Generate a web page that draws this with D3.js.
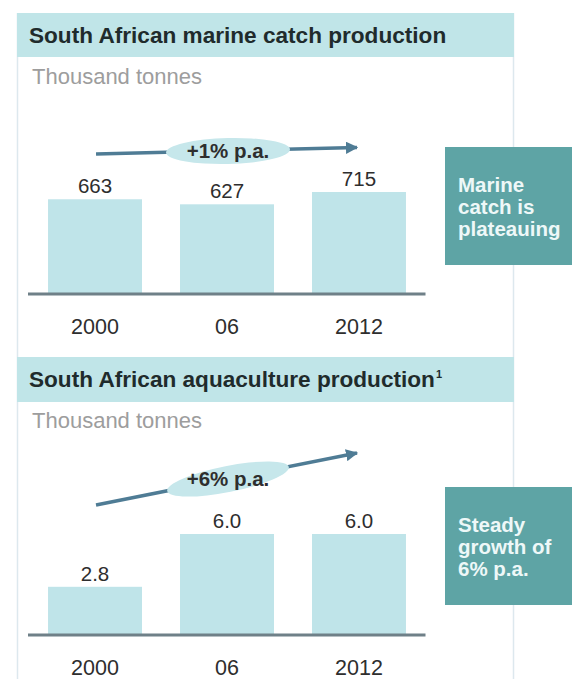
<!DOCTYPE html>
<html>
<head>
<meta charset="utf-8">
<script src="https://cdn.jsdelivr.net/npm/d3@7"></script>
<style>
  html, body { margin: 0; padding: 0; background: #fff; }
  svg { display: block; font-family: "Liberation Sans", Arial, Helvetica, sans-serif; }
</style>
</head>
<body>
<svg id="chart" width="572" height="679"></svg>
<script>
// Years shown on both charts
const categories = ["2000", "06", "2012"];

// Thousand tonnes
const marineCatch = [663, 627, 715];
const aquaculture = [2.8, 6.0, 6.0];

// Panel texts
const titles = ["South African marine catch production", "South African aquaculture production"];
const units = ["Thousand tonnes", "Thousand tonnes"];
const growthLabels = ["+1% p.a.", "+6% p.a."];
const sideNotes = [
  ["Marine", "catch is", "plateauing"],
  ["Steady", "growth of", "6% p.a."]
];

const COLORS = {
  header: "#c0e5e8",
  bar: "#bfe4e9",
  axis: "#6f8088",
  arrow: "#4f7c95",
  bubble: "#c6e7eb",
  note: "#5ea4a5",
  border: "#dde8ee",
  title: "#1f2b2c",
  unit: "#9d9d9d",
  label: "#2e2e2e"
};

const svg = d3.select("#chart");

// Frame lines of the card
svg.append("line").attr("x1", 17.5).attr("x2", 17.5).attr("y1", 13).attr("y2", 679)
  .attr("stroke", COLORS.border).attr("stroke-width", 1.5);
svg.append("line").attr("x1", 513.5).attr("x2", 513.5).attr("y1", 13).attr("y2", 679)
  .attr("stroke", COLORS.border).attr("stroke-width", 1.5);

// Shared horizontal scale
const x = d3.scaleBand()
  .domain(categories)
  .range([28.5, 425.5])
  .paddingInner(0.288)
  .paddingOuter(0.148);

const arrowHead = svg.append("defs").append("marker")
  .attr("id", "head")
  .attr("viewBox", "0 0 10 10")
  .attr("refX", 9).attr("refY", 5)
  .attr("markerWidth", 3.4).attr("markerHeight", 3.4)
  .attr("markerUnits", "strokeWidth")
  .attr("orient", "auto");
arrowHead.append("path").attr("d", "M0,0 L10,5 L0,10 Z").attr("fill", COLORS.arrow);

const panels = [
  {
    values: marineCatch, fmt: d3.format("d"),
    top: 13, headerH: 44, yMax: 715, yRange: [292, 192], axisY: 294,
    arrowY: [154, 147.5], bubbleY: 151, box: [147, 265],
    title: titles[0], unit: units[0], growth: growthLabels[0], note: sideNotes[0], sup: ""
  },
  {
    values: aquaculture, fmt: d3.format(".1f"),
    top: 357, headerH: 45, yMax: 6, yRange: [633, 534], axisY: 635,
    arrowY: [505, 453], bubbleY: 479, box: [487, 605],
    title: titles[1], unit: units[1], growth: growthLabels[1], note: sideNotes[1], sup: "1"
  }
];

panels.forEach(p => {
  const g = svg.append("g");

  // Header band and title
  g.append("rect").attr("x", 17).attr("y", p.top).attr("width", 497).attr("height", p.headerH)
    .attr("fill", COLORS.header);
  const t = g.append("text").attr("x", 29).attr("y", p.top + 30)
    .attr("font-size", 22.6).attr("font-weight", "bold").attr("fill", COLORS.title)
    .text(p.title);
  if (p.sup) {
    t.append("tspan").attr("font-size", 11).attr("dy", -9).attr("dx", 1).text(p.sup);
  }

  // Unit line
  g.append("text").attr("x", 32).attr("y", p.top + 71)
    .attr("font-size", 22).attr("fill", COLORS.unit).text(p.unit);

  const y = d3.scaleLinear().domain([0, p.yMax]).range(p.yRange);

  // Bars
  g.selectAll("rect.bar").data(p.values).join("rect").attr("class", "bar")
    .attr("x", (d, i) => x(categories[i]))
    .attr("width", x.bandwidth())
    .attr("y", d => y(d))
    .attr("height", d => y(0) - y(d) + 1)
    .attr("fill", COLORS.bar);

  // Value labels
  g.selectAll("text.val").data(p.values).join("text").attr("class", "val")
    .attr("x", (d, i) => x(categories[i]) + x.bandwidth() / 2)
    .attr("y", d => y(d) - 6)
    .attr("text-anchor", "middle")
    .attr("font-size", 20.5).attr("fill", COLORS.label)
    .text(d => p.fmt(d));

  // Baseline
  g.append("line").attr("x1", 28).attr("x2", 425.5)
    .attr("y1", p.axisY).attr("y2", p.axisY)
    .attr("stroke", COLORS.axis).attr("stroke-width", 3.2);

  // Category axis labels
  const axis = d3.axisBottom(x).tickSize(0).tickPadding(0);
  const ax = g.append("g").attr("transform", `translate(0,${p.axisY})`).call(axis);
  ax.select(".domain").remove();
  ax.selectAll("text")
    .attr("y", 40).attr("dy", 0)
    .attr("font-size", 21.5).attr("fill", COLORS.label)
    .attr("font-family", "Liberation Sans, Arial, sans-serif");

  // Growth arrow across the years
  const x0 = x(categories[0]) + x.bandwidth() / 2 + 1;
  const x1 = x(categories[categories.length - 1]) + x.bandwidth() / 2 - 2;
  g.append("line").attr("x1", x0).attr("y1", p.arrowY[0]).attr("x2", x1).attr("y2", p.arrowY[1])
    .attr("stroke", COLORS.arrow).attr("stroke-width", 3.6)
    .attr("marker-end", "url(#head)");

  // Growth-rate bubble on the arrow
  const cx = x(categories[1]) + x.bandwidth() / 2 + 1;
  const angle = Math.atan2(p.arrowY[1] - p.arrowY[0], x1 - x0) * 180 / Math.PI;
  g.append("ellipse").attr("cx", cx).attr("cy", p.bubbleY)
    .attr("rx", 62).attr("ry", 13)
    .attr("transform", `rotate(${angle},${cx},${p.bubbleY})`)
    .attr("fill", COLORS.bubble);
  g.append("text").attr("x", cx).attr("y", p.bubbleY + 7)
    .attr("text-anchor", "middle").attr("font-size", 20.5).attr("font-weight", "bold")
    .attr("fill", COLORS.label).text(p.growth);

  // Side note box
  g.append("rect").attr("x", 445).attr("y", p.box[0]).attr("width", 127)
    .attr("height", p.box[1] - p.box[0]).attr("fill", COLORS.note);
  g.append("text").attr("x", 458).attr("y", p.box[0] + 45)
    .attr("font-size", 20.5).attr("font-weight", "bold").attr("fill", "#eef8f8")
    .selectAll("tspan").data(p.note).join("tspan")
    .attr("x", 458).attr("dy", (d, i) => i === 0 ? 0 : 22)
    .text(d => d);
});
</script>
</body>
</html>
